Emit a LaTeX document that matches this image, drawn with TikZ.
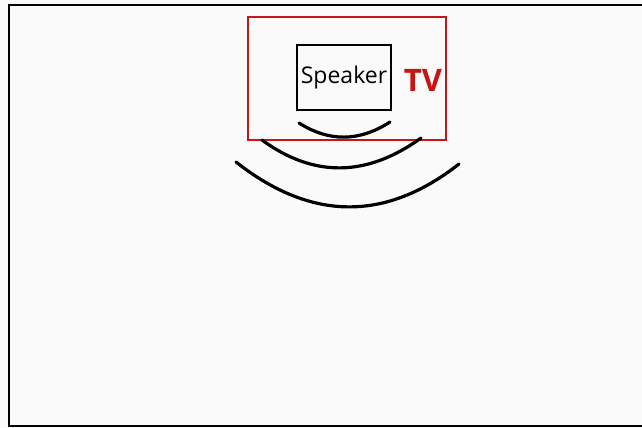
\documentclass[tikz,border=0pt]{standalone}
\usepackage{fontspec}
\setmainfont{Open Sans}
\usepackage{tikz}
\usetikzlibrary{positioning}
\definecolor{tvred}{RGB}{200,20,20}

\begin{document}
\begin{tikzpicture}[x=1pt,y=-1pt,
  spkbox/.style={draw, line width=1.3pt, minimum width=94pt, minimum height=65pt, inner sep=0pt},
  wave/.style={line width=3.2pt, line cap=round}]
\useasboundingbox (0,0) rectangle (642,428);
\fill[white!98!black] (0,0) rectangle (642,428);

% Frame
\draw[line width=1.5pt] (642,5) -- (9,5) -- (9,426) -- (642,426);

% TV outline
\draw[tvred, line width=1.6pt] (248,17) rectangle (446,140);

% Speaker and label
\node[spkbox] (speaker) at (344,77.5) {\fontsize{23}{23}\selectfont Speaker};
\node[tvred, font=\fontsize{31}{31}\selectfont\bfseries] (tv) at (423,80) {TV};

% Sound waves
\draw[wave] (299,123) .. controls (329,142) and (359,142) .. (390,122);
\draw[wave] (262,140) .. controls (314,178) and (367,177) .. (421,138);
\draw[wave] (236,162) .. controls (311,221) and (385,222) .. (459,164);

\end{tikzpicture}
\end{document}
